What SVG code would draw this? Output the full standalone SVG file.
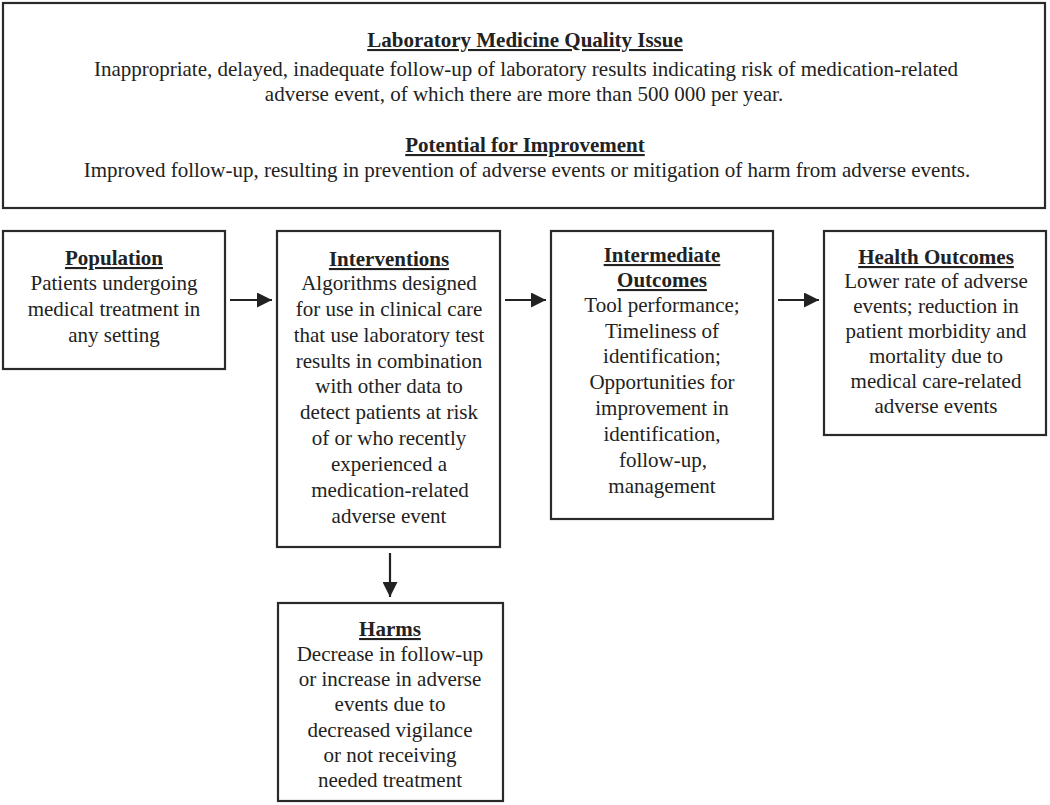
<svg xmlns="http://www.w3.org/2000/svg" width="1050" height="805" viewBox="0 0 1050 805">
<defs>
<style>
.box{fill:#fff;stroke:#2a2a2a;stroke-width:2.2}
text{font-family:"Liberation Serif","Times New Roman",serif;font-size:21px;fill:#222;text-anchor:middle}
.t{font-weight:bold;text-decoration:underline}
.c{stroke:#222;stroke-width:2.2;fill:none}
</style>
<marker id="ah" viewBox="0 0 10 10" refX="10" refY="5" markerWidth="15" markerHeight="15" markerUnits="userSpaceOnUse" orient="auto">
<path d="M0,0 L10,5 L0,10 Z" fill="#222"/>
</marker>
</defs>
<rect width="1050" height="805" fill="#fff"/>
<g id="quality-issue">
<rect class="box" x="3" y="3" width="1042" height="205"/>
<text class="t" x="525" y="47">Laboratory Medicine Quality Issue</text>
<text x="526" y="76">Inappropriate, delayed, inadequate follow-up of laboratory results indicating risk of medication-related</text>
<text x="524" y="101">adverse event, of which there are more than 500 000 per year.</text>
<text class="t" x="525" y="152">Potential for Improvement</text>
<text x="527" y="177">Improved follow-up, resulting in prevention of adverse events or mitigation of harm from adverse events.</text>
</g>
<g id="population">
<rect class="box" x="3" y="231" width="222" height="138"/>
<text class="t" x="114" y="265">Population</text>
<text x="114" y="290">Patients undergoing</text>
<text x="114" y="316">medical treatment in</text>
<text x="114" y="342">any setting</text>
</g>
<g id="interventions">
<rect class="box" x="277" y="231" width="223" height="316"/>
<text class="t" x="389" y="266">Interventions</text>
<text x="389" y="290">Algorithms designed</text>
<text x="389" y="316">for use in clinical care</text>
<text x="389" y="342">that use laboratory test</text>
<text x="389" y="368">results in combination</text>
<text x="389" y="393">with other data to</text>
<text x="389" y="419">detect patients at risk</text>
<text x="389" y="445">of or who recently</text>
<text x="389" y="471">experienced a</text>
<text x="390" y="497">medication-related</text>
<text x="389" y="523">adverse event</text>
</g>
<g id="intermediate-outcomes">
<rect class="box" x="551" y="231" width="222" height="288"/>
<text class="t" x="662" y="262">Intermediate</text>
<text class="t" x="662" y="287">Outcomes</text>
<text x="662" y="312">Tool performance;</text>
<text x="662" y="338">Timeliness of</text>
<text x="662" y="363">identification;</text>
<text x="662" y="389">Opportunities for</text>
<text x="662" y="415">improvement in</text>
<text x="662" y="441">identification,</text>
<text x="663" y="467">follow-up,</text>
<text x="662" y="493">management</text>
</g>
<g id="health-outcomes">
<rect class="box" x="824" y="231" width="222" height="204"/>
<text class="t" x="936" y="264">Health Outcomes</text>
<text x="936" y="288">Lower rate of adverse</text>
<text x="936" y="313">events; reduction in</text>
<text x="936" y="338">patient morbidity and</text>
<text x="936" y="363">mortality due to</text>
<text x="936" y="388">medical care-related</text>
<text x="936" y="413">adverse events</text>
</g>
<g id="harms">
<rect class="box" x="278" y="603" width="225" height="198"/>
<text class="t" x="390" y="636">Harms</text>
<text x="390" y="661">Decrease in follow-up</text>
<text x="390" y="686">or increase in adverse</text>
<text x="390" y="711">events due to</text>
<text x="390" y="737">decreased vigilance</text>
<text x="390" y="762">or not receiving</text>
<text x="390" y="787">needed treatment</text>
</g>
<g id="connectors">
<line class="c" x1="230" y1="300" x2="272" y2="300" marker-end="url(#ah)"/>
<line class="c" x1="505" y1="300" x2="546" y2="300" marker-end="url(#ah)"/>
<line class="c" x1="778" y1="300" x2="819" y2="300" marker-end="url(#ah)"/>
<line class="c" x1="390" y1="553" x2="390" y2="597" marker-end="url(#ah)"/>
</g>
</svg>
